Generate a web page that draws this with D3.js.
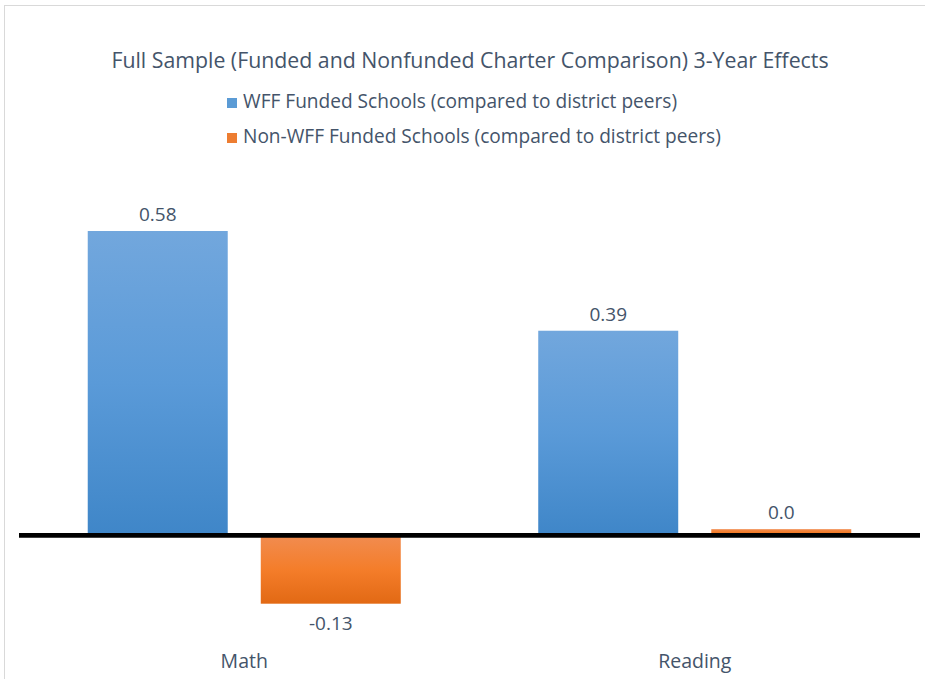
<!DOCTYPE html>
<html><head><meta charset="utf-8">
<script src="https://cdn.jsdelivr.net/npm/d3@7"></script>
<style>
html,body{margin:0;padding:0;background:#fff;}
text{font-family:"Open Sans",sans-serif;fill:#44546a;}
</style></head>
<body>
<svg id="chart" width="925" height="679"></svg>
<script>
const title = "Full Sample (Funded and Nonfunded Charter Comparison) 3-Year Effects";
const categories = ["Math", "Reading"];
const seriesNames = ["WFF Funded Schools (compared to district peers)", "Non-WFF Funded Schools (compared to district peers)"];
const wffValues = [0.58, 0.39];
const nonWffValues = [-0.13, 0.012];
const wffLabels = ["0.58", "0.39"];
const nonWffLabels = ["-0.13", "0.0"];

const svg = d3.select("#chart");
const plot = {left: 19, right: 920};

svg.append("rect").attr("x", 4.5).attr("y", 5.5).attr("width", 940).attr("height", 700)
  .attr("fill", "none").attr("stroke", "#d9d9d9").attr("stroke-width", 1);

const defs = svg.append("defs");
function grad(id, stops){
  const g = defs.append("linearGradient").attr("id", id).attr("x1",0).attr("y1",0).attr("x2",0).attr("y2",1);
  stops.forEach(([o,c]) => g.append("stop").attr("offset", o).attr("stop-color", c));
}
grad("gBlue", [[0,"#72a7dd"],[0.5,"#5a9ad8"],[1,"#3f86c8"]]);
grad("gOrange", [[0,"#f18c50"],[0.5,"#f47d2a"],[1,"#e26914"]]);
const fills = ["url(#gBlue)", "url(#gOrange)"];
const legendFills = ["#5b9bd5", "#ed7d31"];

const x0 = d3.scaleBand().domain(categories).range([plot.left, plot.right]).paddingInner(0).paddingOuter(0);
const barW = x0.bandwidth() * (1 / (2 + 0.236 + 0.982));
const innerGap = barW * 0.236;
const x1 = (cat, s) => x0(cat) + (x0.bandwidth() - (2*barW + innerGap))/2 + s*(barW + innerGap);

const y = d3.scaleLinear().domain([-0.13, 0.58]).range([603.7, 231]);

const series = [
  {name: seriesNames[0], values: wffValues, labels: wffLabels},
  {name: seriesNames[1], values: nonWffValues, labels: nonWffLabels}
];

series.forEach((s, si) => {
  const g = svg.append("g");
  categories.forEach((c, ci) => {
    const v = s.values[ci];
    const top = v >= 0 ? y(v) : y(0);
    const h = Math.abs(y(v) - y(0));
    g.append("rect").attr("x", x1(c, si)).attr("y", top).attr("width", barW).attr("height", h)
      .attr("fill", fills[si]);
    const ly = v >= 0 ? y(v) - 15 : y(v) + 21;
    g.append("text").attr("x", x1(c, si) + barW/2).attr("y", ly)
      .attr("text-anchor", "middle").attr("dominant-baseline", "middle")
      .style("font-size", "19px").text(s.labels[ci]);
  });
});

svg.append("line").attr("x1", plot.left).attr("x2", plot.right)
  .attr("y1", y(0)).attr("y2", y(0)).attr("stroke", "#000").attr("stroke-width", 4.7);

const xAxis = d3.axisBottom(x0).tickSize(0).tickPadding(0);
const ax = svg.append("g").attr("transform", `translate(0,${y(0)})`).call(xAxis);
ax.select(".domain").remove();
ax.selectAll("text").attr("y", 661 - y(0)).attr("dy", "0.35em")
  .style("font-size", "19.5px").style("font-family", "'Open Sans', sans-serif").attr("fill", "#44546a");

svg.append("text").attr("x", 470).attr("y", 62).attr("text-anchor", "middle")
  .attr("dominant-baseline", "middle").style("font-size", "21.3px").text(title);

const leg = svg.append("g");
seriesNames.forEach((n, i) => {
  const ly = 103 + i*35;
  leg.append("rect").attr("x", 227).attr("y", ly - 5).attr("width", 10).attr("height", 10).attr("fill", legendFills[i]);
  leg.append("text").attr("x", 243).attr("y", ly).attr("dominant-baseline", "middle")
    .style("font-size", "19.1px").text(n);
});
</script>
</body></html>
